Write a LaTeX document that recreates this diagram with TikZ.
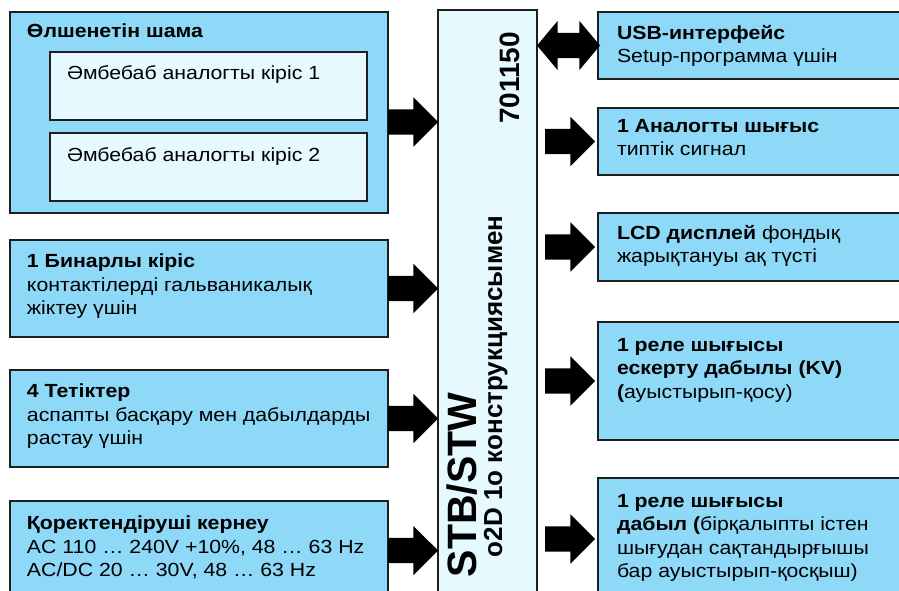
\documentclass[tikz,border=0pt]{standalone}
\usepackage{fontspec}
\setmainfont{Liberation Sans}[FakeStretch=1.12]
\newfontfamily\rotfont{Liberation Sans}
\usetikzlibrary{positioning,shapes.arrows}
\definecolor{boxblue}{RGB}{142,216,248}
\definecolor{paleblue}{RGB}{230,249,255}
\definecolor{edgegray}{RGB}{30,30,30}
\begin{document}
\begin{tikzpicture}[x=1pt, y=-1pt, every node/.style={outer sep=0pt},
    box/.style={draw=edgegray, line width=1.5pt, fill=boxblue, inner sep=0pt, anchor=north west},
    inbox/.style={box, fill=paleblue},
    txt/.style={inner sep=0pt, align=left, anchor=north west, font=\fontsize{19}{23.5}\selectfont},
    rottxt/.style={rotate=90, inner sep=0pt},
    rarrow/.style={single arrow, fill=black, inner xsep=0pt, inner ysep=12.5pt, minimum height=50pt, single arrow head extend=12pt},
    darrow/.style={double arrow, fill=black, inner xsep=0pt, inner ysep=12.5pt, minimum height=63pt, double arrow head extend=12pt, double arrow tip angle=100}]
    \useasboundingbox (0,0) rectangle (899,591);
    \clip (0,0) rectangle (899,591);

    \node[box, minimum width=378pt, minimum height=201pt] (meas) at (10,12) {};
    \node[inbox, minimum width=317pt, minimum height=68pt] (in1) at (50,52) {};
    \node[inbox, minimum width=317pt, minimum height=68pt] (in2) at (50,133) {};
    \node[box, minimum width=378pt, minimum height=97pt] (bin) at (10,240) {};
    \node[box, minimum width=378pt, minimum height=97pt] (keys) at (10,370) {};
    \node[box, minimum width=378pt, minimum height=99pt] (pwr) at (10,501) {};
    \node[inbox, minimum width=99pt, minimum height=590pt] (dev) at (438,10) {};
    \node[box, minimum width=307pt, minimum height=67pt] (usb) at (598,12) {};
    \node[box, minimum width=307pt, minimum height=67pt] (aout) at (598,108) {};
    \node[box, minimum width=307pt, minimum height=68pt] (lcd) at (598,213) {};
    \node[box, minimum width=307pt, minimum height=118pt] (rel1) at (598,322) {};
    \node[box, minimum width=307pt, minimum height=122pt] (rel2) at (598,478) {};

    \node[txt, below right=12pt and 17pt of meas.north west] (meastxt) {\textbf{Өлшенетін шама}};
    \node[txt, below right=14pt and 17pt of in1.north west] (in1txt) {Әмбебаб аналогты кіріс 1};
    \node[txt, below right=15pt and 17pt of in2.north west] (in2txt) {Әмбебаб аналогты кіріс 2};
    \node[txt, below right=14pt and 17pt of bin.north west] (bintxt) {\textbf{1 Бинарлы кіріс}\\контактілерді гальваникалық\\жіктеу үшін};
    \node[txt, below right=14pt and 17pt of keys.north west] (keystxt) {\textbf{4 Тетіктер}\\аспапты басқару мен дабылдарды\\растау үшін};
    \node[txt, below right=15pt and 17pt of pwr.north west] (pwrtxt) {\textbf{Қоректендіруші кернеу}\\AC 110 … 240V +10\%, 48 … 63 Hz\\AC/DC 20 … 30V, 48 … 63 Hz};
    \node[txt, below right=13pt and 19pt of usb.north west] (usbtxt) {\textbf{USB-интерфейс}\\Setup-программа үшін};
    \node[txt, below right=11pt and 19pt of aout.north west] (aouttxt) {\textbf{1 Аналогты шығыс}\\типтік сигнал};
    \node[txt, below right=12pt and 19pt of lcd.north west] (lcdtxt) {\textbf{LCD дисплей} фондық\\жарықтануы ақ түсті};
    \node[txt, below right=16pt and 19pt of rel1.north west] (rel1txt) {\textbf{1 реле шығысы}\\\textbf{ескерту дабылы (KV)}\\\textbf{(}ауыстырып-қосу)};
    \node[txt, below right=16pt and 19pt of rel2.north west] (rel2txt) {\textbf{1 реле шығысы}\\\textbf{дабыл (}бірқалыпты істен\\шығудан сақтандырғышы\\бар ауыстырып-қосқыш)};

    \node[rottxt, anchor=base west, font=\rotfont\bfseries\fontsize{41}{41}\selectfont] (devname) at (476,577) {STB/STW};
    \node[rottxt, anchor=base west, font=\rotfont\bfseries\fontsize{26}{26}\selectfont] (devsub) at (502,557) {o2D 1o конструкциясымен};
    \node[rottxt, anchor=base east, font=\rotfont\bfseries\fontsize{28}{28}\selectfont] (devno) at (519,32) {701150};

    \node[rarrow, anchor=tail] (measarr) at ([yshift=-9.5pt]meas.east) {};
    \node[rarrow, anchor=tail] (binarr) at (bin.east) {};
    \node[rarrow, anchor=tail] (keysarr) at (keys.east) {};
    \node[rarrow, anchor=tail] (pwrarr) at (pwr.east) {};
    \node[darrow, xshift=31.5pt] (usbarr) at (dev.east |- usb.west) {};
    \node[rarrow, anchor=tip] (aoutarr) at ([xshift=-3pt]aout.west) {};
    \node[rarrow, anchor=tip] (lcdarr) at ([xshift=-3pt]lcd.west) {};
    \node[rarrow, anchor=tip] (rel1arr) at ([xshift=-3pt]rel1.west) {};
    \node[rarrow, anchor=tip] (rel2arr) at ([xshift=-3pt]rel2.west) {};
\end{tikzpicture}
\end{document}
